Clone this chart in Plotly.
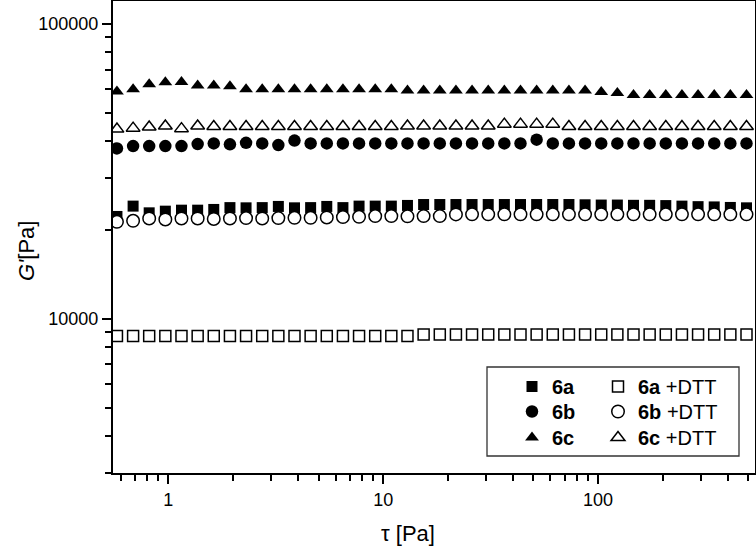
import plotly.graph_objects as go

# shear stress tau [Pa]
tau = [0.577, 0.686, 0.815, 0.969, 1.152, 1.370, 1.628, 1.936, 2.301, 2.736,
       3.252, 3.866, 4.596, 5.464, 6.496, 7.722, 9.180, 10.91, 12.97, 15.42,
       18.34, 21.80, 25.91, 30.81, 36.62, 43.54, 51.76, 61.53, 73.15, 86.96,
       103.4, 122.9, 146.1, 173.7, 206.5, 245.5, 291.8, 346.9, 412.4, 490.3]

g_6a = [22230, 24100, 22870, 23170, 23350, 23350, 23480, 23820, 23780, 23820,
        24040, 23780, 23820, 24040, 23820, 24100, 24100, 24100, 24230, 24400,
        24400, 24400, 24400, 24400, 24400, 24400, 24400, 24400, 24400, 24350,
        24300, 24300, 24250, 24250, 24200, 24100, 24000, 23950, 23850, 23780]

g_6b = [37820, 38510, 38510, 38510, 38510, 39120, 39330, 39030, 39500, 39330,
        38810, 40200, 39330, 39330, 39330, 39330, 39330, 39330, 39330, 39330,
        39330, 39330, 39330, 39330, 39330, 39330, 40500, 39330, 39330, 39330,
        39330, 39330, 39330, 39330, 39330, 39330, 39330, 39330, 39330, 39330]

g_6c = [59020, 60010, 62390, 63400, 63460, 61860, 61860, 61420, 60010, 60010,
        60010, 60010, 60010, 60010, 60010, 60010, 60010, 60010, 59400, 59400,
        59400, 59400, 59400, 59400, 59400, 59400, 59400, 59400, 59400, 59400,
        58700, 58250, 57340, 57340, 57340, 57340, 57340, 57340, 57340, 57340]

g_6a_dtt = [8750, 8750, 8750, 8750, 8750, 8750, 8750, 8750, 8750, 8750,
            8750, 8750, 8750, 8750, 8750, 8750, 8750, 8750, 8750, 8840,
            8840, 8840, 8840, 8840, 8840, 8840, 8840, 8840, 8840, 8840,
            8840, 8840, 8840, 8840, 8840, 8840, 8840, 8840, 8840, 8840]

g_6b_dtt = [21320, 21490, 21890, 21720, 21890, 21890, 21800, 21890, 21950, 21890,
            21950, 22000, 22000, 22060, 22120, 22170, 22290, 22290, 22250, 22290,
            22290, 22590, 22600, 22600, 22600, 22600, 22600, 22600, 22600, 22600,
            22600, 22600, 22600, 22600, 22600, 22600, 22600, 22600, 22600, 22600]

g_6c_dtt = [43970, 44300, 44670, 45020, 44130, 45020, 44850, 44850, 44850, 44850,
            44850, 44850, 44850, 44850, 44850, 44850, 44850, 44850, 45020, 45020,
            45020, 45020, 45020, 45020, 45700, 45700, 45700, 45700, 44850, 44850,
            44850, 44850, 44850, 44850, 44850, 44850, 44850, 44850, 44850, 44850]

FONT = "Liberation Sans, Arial, sans-serif"

W, H = 756, 549
L, R, T, B = 113, 1, 1, 76
pw, ph = W - L - R, H - T - B

def px_x(x):
    return (x - L) / pw

def px_y(y):
    return (H - B - y) / ph

# name, values, symbol, fill, size, legend id, legend left px, row-center px
series = [
    ("<b>6a</b>", g_6a, "square", "black", 11, "legend", 512, 386),
    ("<b>6b</b>", g_6b, "circle", "black", 12.5, "legend2", 512, 411),
    ("<b>6c</b>", g_6c, "triangle-up", "black", 12, "legend3", 512, 437),
    ("<b>6a</b> +DTT", g_6a_dtt, "square", "white", 11, "legend4", 598, 386),
    ("<b>6b</b> +DTT", g_6b_dtt, "circle", "white", 12.5, "legend5", 598, 411),
    ("<b>6c</b> +DTT", g_6c_dtt, "triangle-up", "white", 12, "legend6", 598, 437),
]

fig = go.Figure()
legends = {}
for name, vals, sym, fill, size, leg, lx, ly in series:
    fig.add_trace(go.Scatter(
        x=tau, y=vals, mode="markers", name=name, legend=leg,
        marker=dict(symbol=sym, color=fill, size=size,
                    line=dict(color="black", width=1.5 if fill == "white" else 0)),
    ))
    legends[leg] = dict(x=px_x(lx), y=px_y(ly - 19), xanchor="left", yanchor="top",
                        bgcolor="rgba(0,0,0,0)", borderwidth=0,
                        font=dict(family=FONT, size=20))

fig.update_layout(
    template="none",
    width=W, height=H,
    margin=dict(l=L, r=R, t=T, b=B, pad=0, autoexpand=False),
    paper_bgcolor="white", plot_bgcolor="white",
    font=dict(family=FONT, size=18, color="black"),
    showlegend=True,
    **legends,
    shapes=[dict(type="rect", xref="paper", yref="paper",
                 x0=px_x(487), x1=px_x(739), y0=px_y(456), y1=px_y(367),
                 line=dict(color="#333", width=1.3), fillcolor="rgba(0,0,0,0)")],
    annotations=[
        dict(text="τ [Pa]", xref="paper", yref="paper", x=px_x(408), y=px_y(533),
             showarrow=False, font=dict(family=FONT, size=22),
             xanchor="center", yanchor="middle"),
        dict(text="<i>G'</i>[Pa]", xref="paper", yref="paper", x=px_x(27), y=px_y(251),
             showarrow=False, textangle=-90, font=dict(family=FONT, size=22),
             xanchor="center", yanchor="middle"),
    ],
)

fig.update_xaxes(
    type="log", range=[-0.2572, 2.730], automargin=False,
    showgrid=False, zeroline=False,
    showline=True, linecolor="black", linewidth=2, mirror=True,
    ticks="outside", ticklen=9, tickwidth=1.5, tickcolor="black",
    tickvals=[1, 10, 100], ticktext=["1", "10", "100"],
    tickfont=dict(family=FONT, size=18),
    minor=dict(ticks="outside", ticklen=6, tickwidth=1.5, tickcolor="black", dtick="D1", showgrid=False),
)
fig.update_yaxes(
    type="log", range=[3.4771, 5.0775], automargin=False,
    showgrid=False, zeroline=False,
    showline=True, linecolor="black", linewidth=2, mirror=True,
    ticks="outside", ticklen=9, tickwidth=1.5, tickcolor="black",
    tickvals=[10000, 100000], ticktext=["10000", "100000"],
    tickfont=dict(family=FONT, size=18),
    minor=dict(ticks="outside", ticklen=6, tickwidth=1.5, tickcolor="black", dtick="D1", showgrid=False),
)

fig.write_html("out.html", config={"displayModeBar": False},
               post_script="document.body.style.margin='0';")
